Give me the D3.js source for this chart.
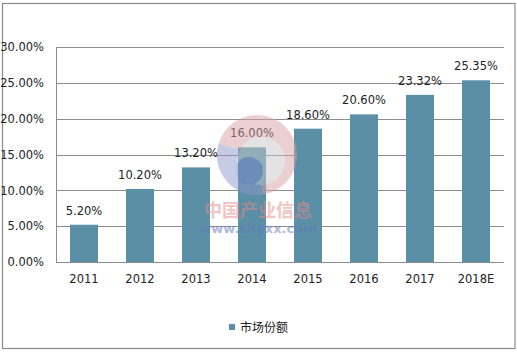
<!DOCTYPE html>
<html>
<head>
<meta charset="utf-8">
<script src="https://cdn.jsdelivr.net/npm/d3@7"></script>
<style>
  body { margin: 0; background: #fff; }
  text { font-family: "DejaVu Sans", "Noto Sans CJK SC", sans-serif; }
</style>
</head>
<body>
<div class="chart"></div>
<script>
// categories, values and tick labels
var years = ["2011", "2012", "2013", "2014", "2015", "2016", "2017", "2018E"];
var share = [5.20, 10.20, 13.20, 16.00, 18.60, 20.60, 23.32, 25.35];
var yTicks = [0, 5, 10, 15, 20, 25, 30];
var seriesName = "市场份额";

var W = 517, H = 353;
var margin = {top: 47, right: 13, bottom: 91, left: 56};
var width = W - margin.left - margin.right,
    height = H - margin.top - margin.bottom;
var barColor = "#5b8fa6";

var svg = d3.select(".chart")
            .append("svg")
            .attr("width", W)
            .attr("height", H);

// outer frame
svg.append("rect")
   .attr("x", 2.5).attr("y", 3.5)
   .attr("width", 512.5).attr("height", 345)
   .attr("fill", "none")
   .attr("stroke", "#8a8a8a")
   .attr("stroke-width", 1.2);

var g = svg.append("g")
           .attr("transform", "translate(" + margin.left + "," + margin.top + ")");

var x = d3.scaleBand()
          .domain(years)
          .range([0, width])
          .paddingInner(0.5)
          .paddingOuter(0.25);

var y = d3.scaleLinear()
          .domain([0, 30])
          .range([height, 0]);

// gridlines
g.append("g")
 .selectAll("line")
 .data(yTicks)
 .enter()
 .append("line")
 .attr("x1", 0).attr("x2", width)
 .attr("y1", function(d) { return Math.round(y(d)) + 0.5; })
 .attr("y2", function(d) { return Math.round(y(d)) + 0.5; })
 .attr("stroke", "#8c8c8c")
 .attr("stroke-width", 1);

// left axis line
g.append("line")
 .attr("x1", 0.5).attr("x2", 0.5)
 .attr("y1", 0).attr("y2", height)
 .attr("stroke", "#8c8c8c");

// y axis labels
var yAxis = d3.axisLeft(y)
              .tickValues(yTicks)
              .tickSize(0)
              .tickPadding(12)
              .tickFormat(function(d) { return d.toFixed(2) + "%"; });
var ya = g.append("g").call(yAxis);
ya.select(".domain").remove();
ya.selectAll("text")
  .style("font-size", "11.5px")
  .attr("fill", "#222");

// x axis labels
var xAxis = d3.axisBottom(x).tickSize(0).tickPadding(13);
var xa = g.append("g")
          .attr("transform", "translate(0," + height + ")")
          .call(xAxis);
xa.select(".domain").remove();
xa.selectAll("text")
  .style("font-size", "11.5px")
  .attr("fill", "#222");

// bars
g.selectAll(".bar")
 .data(share)
 .enter()
 .append("rect")
 .attr("class", "bar")
 .attr("x", function(d, i) { return x(years[i]); })
 .attr("y", function(d) { return y(d); })
 .attr("width", x.bandwidth())
 .attr("height", function(d) { return height - y(d); })
 .attr("fill", barColor);

// value labels
g.selectAll(".val")
 .data(share)
 .enter()
 .append("text")
 .attr("class", "val")
 .attr("x", function(d, i) { return x(years[i]) + x.bandwidth() / 2; })
 .attr("y", function(d) { return y(d) - 10; })
 .attr("text-anchor", "middle")
 .style("font-size", "11.5px")
 .attr("fill", "#222")
 .text(function(d) { return d.toFixed(2) + "%"; });

// watermark (faint logo + site text)
var wm = svg.append("g").attr("opacity", 0.5);
var logo = wm.append("g").attr("transform", "translate(257,155)");
logo.append("circle").attr("r", 40).attr("fill", "#d9a2a6");
logo.append("path")
    .attr("d", d3.arc().innerRadius(0).outerRadius(40)({startAngle: 3.0, endAngle: 5.0}))
    .attr("fill", "#8f98cf");
logo.append("circle").attr("cx", 4).attr("cy", 6).attr("r", 24).attr("fill", "#c9c9cb");
logo.append("circle").attr("cx", -8).attr("cy", 16).attr("r", 14).attr("fill", "#7d8cc8");
wm.append("text")
  .attr("x", 258).attr("y", 217)
  .attr("text-anchor", "middle")
  .style("font-size", "18px")
  .style("font-weight", "bold")
  .attr("fill", "#e08c8c")
  .text("中国产业信息");
wm.append("text")
  .attr("x", 258).attr("y", 233)
  .attr("text-anchor", "middle")
  .style("font-size", "13px")
  .style("font-weight", "bold")
  .attr("fill", "#6277bd")
  .text("www.chyxx.com");

// legend
var legend = svg.append("g").attr("transform", "translate(229,322)");
legend.append("rect")
      .attr("width", 6).attr("height", 6)
      .attr("y", 2)
      .attr("fill", barColor);
legend.append("text")
      .attr("x", 11).attr("y", 9.5)
      .style("font-size", "12px")
      .attr("fill", "#222")
      .text(seriesName);
</script>
</body>
</html>
